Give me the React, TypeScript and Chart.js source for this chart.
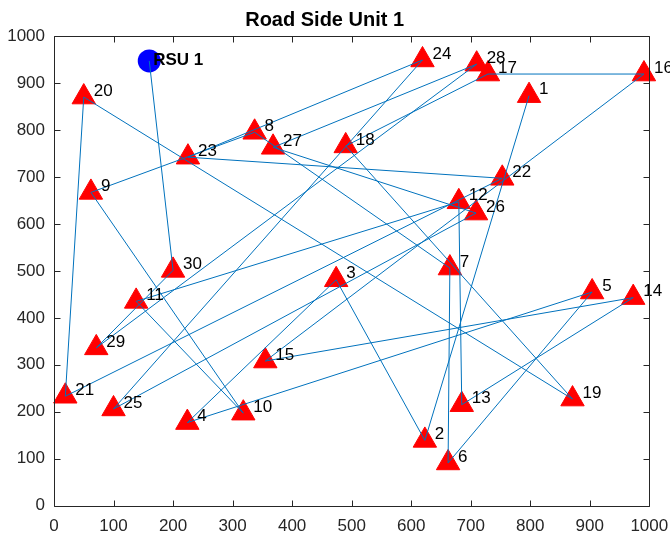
import React, { useEffect, useRef } from 'react';
import { Chart, registerables } from 'chart.js';

Chart.register(...registerables);

// Node ids (labels drawn next to each triangle)
const nodeIds = ['1','2','3','4','5','6','7','8','9','10','11','12','13','14','15','16','17','18','19','20','21','22','23','24','25','26','27','28','29','30'];
// Node coordinates (metres)
const nodeX = [798, 623, 474, 224, 904, 662, 665, 337, 62, 318, 138, 680, 685, 973, 355, 991, 729, 490, 871, 50, 19, 753, 225, 619, 100, 709, 368, 710, 71, 200];
const nodeY = [873, 139, 481, 177, 455, 91, 506, 795, 667, 197, 435, 647, 215, 443, 308, 919, 919, 766, 227, 870, 233, 697, 742, 949, 206, 623, 763, 940, 336, 501];
// Road side unit
const rsuX = [160];
const rsuY = [947];
const rsuLabels = ['RSU 1'];
// Axis ticks
const axisTicks = [0, 100, 200, 300, 400, 500, 600, 700, 800, 900, 1000];
const tickLabels = ['0', '100', '200', '300', '400', '500', '600', '700', '800', '900', '1000'];
const titleText = 'Road Side Unit 1';

const FONT = "'Liberation Sans', Arial, Helvetica, sans-serif";

export default function App() {
  const ref = useRef<HTMLCanvasElement>(null);

  useEffect(() => {
    if (!ref.current) return;
    const nodes = nodeX.map((x, i) => ({ x, y: nodeY[i] }));
    const rsu = rsuX.map((x, i) => ({ x, y: rsuY[i] }));
    const path = [...nodes, ...rsu];

    const labelPlugin = {
      id: 'nodeLabels',
      afterDatasetsDraw(chart: any) {
        const ctx = chart.ctx;
        ctx.save();
        ctx.textBaseline = 'middle';
        ctx.textAlign = 'left';
        ctx.fillStyle = '#000';
        const nodeMeta = chart.getDatasetMeta(1);
        ctx.font = `17px ${FONT}`;
        nodeMeta.data.forEach((el: any, i: number) => {
          ctx.fillText(nodeIds[i], el.x + 10, el.y - 6);
        });
        const rsuMeta = chart.getDatasetMeta(2);
        ctx.font = `bold 17px ${FONT}`;
        rsuMeta.data.forEach((el: any, i: number) => {
          ctx.fillText(rsuLabels[i], el.x + 4, el.y - 1);
        });
        ctx.restore();
      },
    };

    const boxPlugin = {
      id: 'matlabBox',
      afterDraw(chart: any) {
        const ctx = chart.ctx;
        const { left, right, top, bottom } = chart.chartArea;
        const xs = chart.scales.x;
        const ys = chart.scales.y;
        ctx.save();
        ctx.strokeStyle = '#262626';
        ctx.lineWidth = 1;
        ctx.beginPath();
        const L = Math.round(left) + 0.5;
        const R = Math.round(right) + 0.5;
        const T = Math.round(top) + 0.5;
        const B = Math.round(bottom) + 0.5;
        for (const v of axisTicks) {
          const px = Math.round(xs.getPixelForValue(v)) + 0.5;
          ctx.moveTo(px, B); ctx.lineTo(px, B - 6);
          ctx.moveTo(px, T); ctx.lineTo(px, T + 6);
          const py = Math.round(ys.getPixelForValue(v)) + 0.5;
          ctx.moveTo(L, py); ctx.lineTo(L + 6, py);
          ctx.moveTo(R, py); ctx.lineTo(R - 6, py);
        }
        ctx.rect(L, T, R - L, B - T);
        ctx.stroke();
        // x tick labels
        ctx.fillStyle = '#262626';
        ctx.font = `17px ${FONT}`;
        ctx.textAlign = 'center';
        ctx.textBaseline = 'middle';
        axisTicks.forEach((v, i) => {
          ctx.fillText(tickLabels[i], xs.getPixelForValue(v), bottom + 21);
        });
        ctx.restore();
      },
    };

    const chart = new Chart(ref.current, {
      type: 'scatter',
      data: {
        datasets: [
          {
            label: 'path',
            data: path,
            showLine: true,
            pointRadius: 0,
            borderColor: '#0072BD',
            borderWidth: 1,
            fill: false,
            clip: false,
            order: 0,
          } as any,
          {
            label: 'nodes',
            data: nodes,
            pointStyle: 'triangle',
            pointRadius: 13.5,
            backgroundColor: '#FF0000',
            borderColor: '#FF0000',
            borderWidth: 1,
            clip: false,
            order: 1,
          } as any,
          {
            label: 'rsu',
            data: rsu,
            pointStyle: 'circle',
            pointRadius: 11.5,
            backgroundColor: '#0000FF',
            borderColor: '#0000FF',
            borderWidth: 0,
            clip: false,
            order: 2,
          } as any,
        ],
      },
      options: {
        responsive: false,
        animation: false,
        devicePixelRatio: 1,
        layout: { padding: { left: 0, right: 20.7, top: 0, bottom: 0 } },
        plugins: {
          legend: { display: false },
          tooltip: { enabled: false },
          title: {
            display: true,
            text: titleText,
            color: '#000',
            font: { family: FONT, size: 20, weight: 'bold', lineHeight: 1.2 },
            padding: { top: 8, bottom: 4 },
          },
        },
        scales: {
          x: {
            type: 'linear',
            min: 0,
            max: 1000,
            grid: { display: false, drawTicks: false },
            border: { display: false },
            ticks: { display: false, stepSize: 100 },
            afterFit: (s: any) => { s.height = 30.3; s.paddingLeft = 0; s.paddingRight = 0; },
          },
          y: {
            type: 'linear',
            min: 0,
            max: 1000,
            grid: { display: false, drawTicks: false },
            border: { display: false },
            ticks: {
              stepSize: 100,
              autoSkip: false,
              padding: 9,
              color: '#262626',
              font: { family: FONT, size: 17 },
              callback: (v: any) => String(v),
            },
            afterFit: (s: any) => { s.width = 54; },
          },
        },
      },
      plugins: [labelPlugin, boxPlugin],
    });
    return () => chart.destroy();
  }, []);

  return (
    <div style={{ position: 'fixed', left: 0, top: 0, width: 670, height: 536, background: '#fff' }}>
      <canvas ref={ref} width={670} height={536} style={{ display: 'block' }} />
    </div>
  );
}
